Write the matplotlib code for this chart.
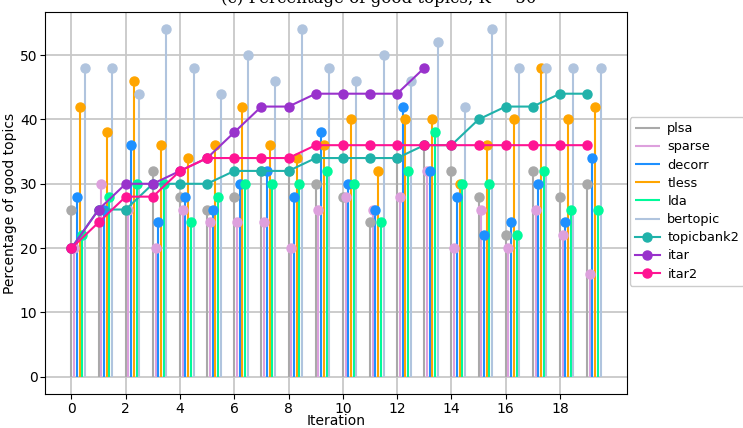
import numpy as np
import matplotlib
matplotlib.use("Agg")
import matplotlib.pyplot as plt

# percentage of good topics per iteration
iterations = np.arange(20)

plsa = [26, 26, 26, 32, 28, 26, 28, 32, 32, 30, 28, 24, 34, 36, 32, 28, 22, 32, 28, 30]
sparse = [20, 30, 26, 20, 26, 24, 24, 24, 20, 26, 28, 26, 28, 32, 20, 26, 20, 26, 22, 16]
decorr = [28, 26, 36, 24, 28, 26, 30, 32, 28, 38, 30, 26, 42, 32, 28, 22, 24, 30, 24, 34]
tless = [42, 38, 46, 36, 34, 36, 42, 36, 34, 36, 40, 32, 40, 40, 30, 36, 40, 48, 40, 42]
lda = [22, 28, 30, 30, 24, 28, 30, 30, 30, 32, 30, 24, 32, 38, 30, 30, 22, 32, 26, 26]
bertopic = [48, 48, 44, 54, 48, 44, 50, 46, 54, 48, 46, 50, 46, 52, 42, 54, 48, 48, 48, 48]

topicbank2 = [20, 26, 26, 30, 30, 30, 32, 32, 32, 34, 34, 34, 34, 36, 36, 40, 42, 42, 44, 44]
itar = [20, 26, 30, 30, 32, 34, 38, 42, 42, 44, 44, 44, 44, 48]
itar2 = [20, 24, 28, 28, 32, 34, 34, 34, 34, 36, 36, 36, 36, 36, 36, 36, 36, 36, 36, 36]

stem_series = [
    ("plsa", plsa, "darkgray"),
    ("sparse", sparse, "plum"),
    ("decorr", decorr, "dodgerblue"),
    ("tless", tless, "orange"),
    ("lda", lda, "mediumspringgreen"),
    ("bertopic", bertopic, "lightsteelblue"),
]
line_series = [
    ("topicbank2", topicbank2, "lightseagreen"),
    ("itar", itar, "darkorchid"),
    ("itar2", itar2, "deeppink"),
]

fig = plt.figure(figsize=(7.43, 4.28), dpi=100)
ax = fig.add_axes([0.0606, 0.079, 0.7834, 0.893])
ax.grid(True, color="#c8c8c8", linewidth=1.3, zorder=0)
ax.set_axisbelow(True)

# stems, shifted a little per method
for k, (name, vals, col) in enumerate(stem_series):
    xs = iterations + 0.1 * k
    ax.vlines(xs, 0, vals, colors=col, linewidth=1.5, label=name, zorder=2)
    ax.plot(xs, vals, "o", color=col, markersize=6.5, zorder=3)

for name, vals, col in line_series:
    ax.plot(iterations[:len(vals)], vals, "-o", color=col, linewidth=1.5,
            markersize=6.5, label=name, zorder=4)

ax.set_xticks(range(0, 20, 2))
ax.set_yticks(range(0, 60, 10))
ax.set_xlim(-0.975, 20.475)
ax.set_ylim(-2.7, 56.7)
ax.tick_params(labelsize=10, pad=2)
ax.set_xlabel("Iteration", fontsize=10, labelpad=-1)
ax.set_ylabel("Percentage of good topics", fontsize=10, labelpad=2)

ax.legend(loc="upper left", bbox_to_anchor=(0.998, 0.735), fontsize=9.3,
          handlelength=1.9, handletextpad=0.6, labelspacing=0.4,
          borderpad=0.4, borderaxespad=0.3, framealpha=1.0)

fig.text(0.51, 0.984, "(c) Percentage of good topics, K = 50", ha="center",
         va="bottom", fontsize=12, family="DejaVu Serif")

fig.savefig("out.png", dpi=100)
